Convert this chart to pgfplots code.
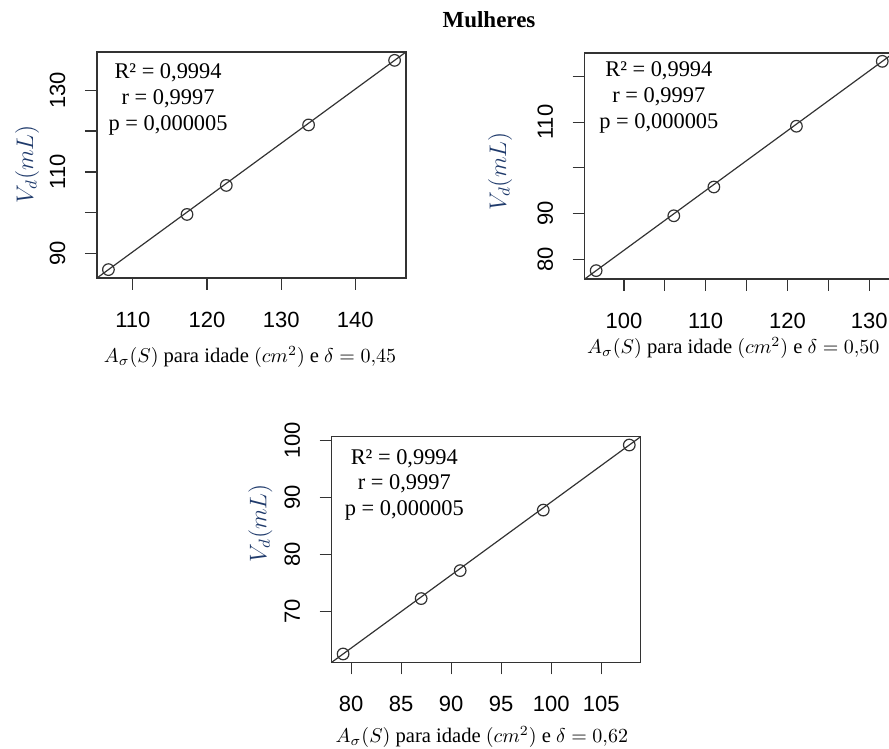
\documentclass[border=0pt]{standalone}
\usepackage{fontspec}
\setmainfont{Liberation Serif}
\newfontfamily\ticksans{Liberation Sans}
\usepackage{pgfplots}
\pgfplotsset{compat=1.18}

\definecolor{boxgray}{HTML}{333333}
\definecolor{ylabblue}{HTML}{1F3A6B}

% 1 px of the reference = 0.5pt
\pgfplotsset{
  painel/.style={
    scale only axis, width=154.5pt, height=113pt,
    axis line style={boxgray, line width=0.65pt},
    tick align=outside, major tick length=6pt,
    tick style={boxgray, line width=0.6pt},
    tick pos=left,
    tick label style={font=\ticksans\fontsize{11}{12}\selectfont},
    xticklabel shift=7.5pt, yticklabel shift=6.3pt,
    yticklabel style={rotate=90, anchor=south},
    xlabel style={font=\fontsize{10.3}{13}\selectfont, anchor=center},
    ylabel style={font=\fontsize{12}{14}\selectfont, text=ylabblue, anchor=center},
  },
  ponto/.style={only marks, mark=o, mark size=2.9pt, mark options={boxgray, line width=0.6pt}},
  reta/.style={no marks, boxgray, line width=0.6pt},
}
\tikzset{anot/.style={align=center, font=\fontsize{11.2}{13}\selectfont, anchor=center}}

\begin{document}
\begin{tikzpicture}

% delta = 0,45
\begin{axis}[painel, at={(48.5pt,235.5pt)}, anchor=south west,
  xmin=105.16, xmax=146.84, ymin=84.05, ymax=139.35,
  xtick={110,120,130,140}, xticklabels={110,120,130,140},
  ytick={90,100,110,120,130}, yticklabels={90,,110,,130},
  xlabel={$A_\sigma(S)$ para idade $(cm^2)$ e $\delta = 0{,}45$},
  ylabel={$V_d(mL)$},
  xlabel style={at={(axis description cs:0.495,-0.348)}},
  ylabel style={at={(axis description cs:-0.2265,0.504)}},
]
\addplot[reta] coordinates {(105.16,84.05) (146.84,139.35)};
\addplot[ponto] coordinates {(106.7,86.1) (117.3,99.6) (122.6,106.7) (133.7,121.5) (145.3,137.3)};
\node[anot] at (axis description cs:0.23,0.79) {R² = 0,9994\\r = 0,9997\\p = 0,000005};
\end{axis}

% delta = 0,50
\begin{axis}[painel, at={(292.35pt,235pt)}, anchor=south west,
  xmin=95.2, xmax=133.0, ymin=75.67, ymax=125.13,
  xtick={100,105,...,130}, xticklabels={100,,110,,120,,130},
  ytick={80,90,...,120}, yticklabels={80,90,,110,},
  xlabel={$A_\sigma(S)$ para idade $(cm^2)$ e $\delta = 0{,}50$},
  ylabel={$V_d(mL)$},
  xlabel style={at={(axis description cs:0.481,-0.305)}},
  ylabel style={at={(axis description cs:-0.274,0.476)}},
]
\addplot[reta] coordinates {(95.2,75.67) (133.0,125.13)};
\addplot[ponto] coordinates {(96.6,77.5) (106.1,89.5) (111.0,95.8) (121.1,109.1) (131.6,123.3)};
\node[anot] at (axis description cs:0.24,0.803) {R² = 0,9994\\r = 0,9997\\p = 0,000005};
\end{axis}

% delta = 0,62
\begin{axis}[painel, at={(165.85pt,43.35pt)}, anchor=south west, height=112.8pt,
  xmin=78.06, xmax=108.94, ymin=61.14, ymax=100.66,
  xtick={80,85,...,105}, xticklabels={80,85,90,95,100,105},
  ytick={70,80,90,100}, yticklabels={70,80,90,100},
  xlabel={$A_\sigma(S)$ para idade $(cm^2)$ e $\delta = 0{,}62$},
  ylabel={$V_d(mL)$},
  xlabel style={at={(axis description cs:0.486,-0.33)}},
  ylabel style={at={(axis description cs:-0.231,0.617)}},
]
\addplot[reta] coordinates {(78.06,61.14) (108.94,100.66)};
\addplot[ponto] coordinates {(79.2,62.6) (87.0,72.3) (90.9,77.2) (99.2,87.8) (107.8,99.2)};
\node[anot, font=\fontsize{11.2}{12.75}\selectfont] at (axis description cs:0.235,0.788) {R² = 0,9994\\r = 0,9997\\p = 0,000005};
\end{axis}

\node[font=\bfseries\fontsize{11.5}{13}\selectfont] at (244.5pt,364.5pt) {Mulheres};

\pgfresetboundingbox
\useasboundingbox (0,0) rectangle (444.5pt,374.5pt);
\end{tikzpicture}
\end{document}
